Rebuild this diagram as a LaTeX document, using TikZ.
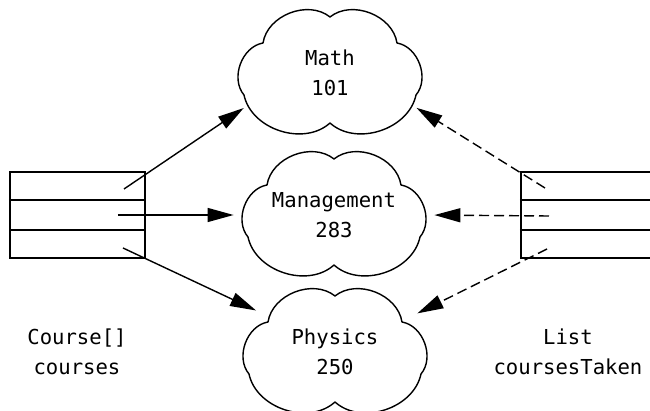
\documentclass[tikz,border=0pt]{standalone}
\usepackage{fontspec}
\setmonofont{DejaVu Sans Mono}
\usetikzlibrary{shapes.geometric,arrows.meta,calc}

\begin{document}
\begin{tikzpicture}[x=0.5pt,y=-0.5pt,
    course/.style={ellipse, minimum width=92pt, minimum height=60pt, inner sep=0pt, align=center,
        font=\ttfamily\fontsize{10.3}{15}\selectfont},
    puff/.style={line width=0.7pt, line join=round, every to/.style={bend left=60}},
    slots/.style={draw, line width=1pt, minimum height=43pt, inner sep=0pt},
    ref/.style={line width=0.7pt, -{Triangle[length=13pt,width=7pt]}, shorten >=4pt},
    listref/.style={ref, dash pattern=on 5pt off 2.5pt},
    varname/.style={align=center, font=\ttfamily\fontsize{10.3}{15}\selectfont}]
    \useasboundingbox (0,0) rectangle (650,411);

    % the three course objects
    \node[course] (math) at (330,73) {Math\\101};
    \node[course] (mgmt) at (334,215) {Management\\283};
    \node[course] (phys) at (335,352) {Physics\\250};
    \foreach \c in {math,mgmt,phys}
        \draw[puff] ($(\c.center)+(0,-56)$) to ($(\c.center)+(67,-30)$) to ($(\c.center)+(86,22)$)
            to ($(\c.center)+(0,50)$) to ($(\c.center)+(-86,22)$) to ($(\c.center)+(-67,-30)$)
            to ($(\c.center)+(0,-56)$) -- cycle;

    % array on the left, list on the right
    \node[slots, minimum width=67.5pt] (arr) at (77.5,215) {};
    \node[slots, minimum width=70pt] (lst) at (591,215) {};
    \foreach \f in {1,2} {
        \draw[line width=1pt] ($(arr.north west)!\f/3!(arr.south west)$) -- ($(arr.north east)!\f/3!(arr.south east)$);
        \draw[line width=1pt] ($(lst.north west)!\f/3!(lst.south west)$) -- ($(lst.north east)!\f/3!(lst.south east)$);
    }
    \node[varname] (arrname) at (77,352) {Course[]\\courses};
    \node[varname] (lstname) at (568,352) {List\\coursesTaken};

    % references
    \coordinate (a1) at (124,189);
    \coordinate (a2) at (118,215);
    \coordinate (a3) at (123,248);
    \coordinate (l1) at (545,188);
    \coordinate (l2) at (549,216);
    \coordinate (l3) at (547,249);
    \draw[ref] (a1) -- (math.201);
    \draw[ref] (a2) -- (mgmt.180);
    \draw[ref] (a3) -- (phys.152);
    \draw[listref] (l1) -- (math.339);
    \draw[listref] (l2) -- (mgmt.0);
    \draw[listref] (l3) -- (phys.25);
\end{tikzpicture}
\end{document}
